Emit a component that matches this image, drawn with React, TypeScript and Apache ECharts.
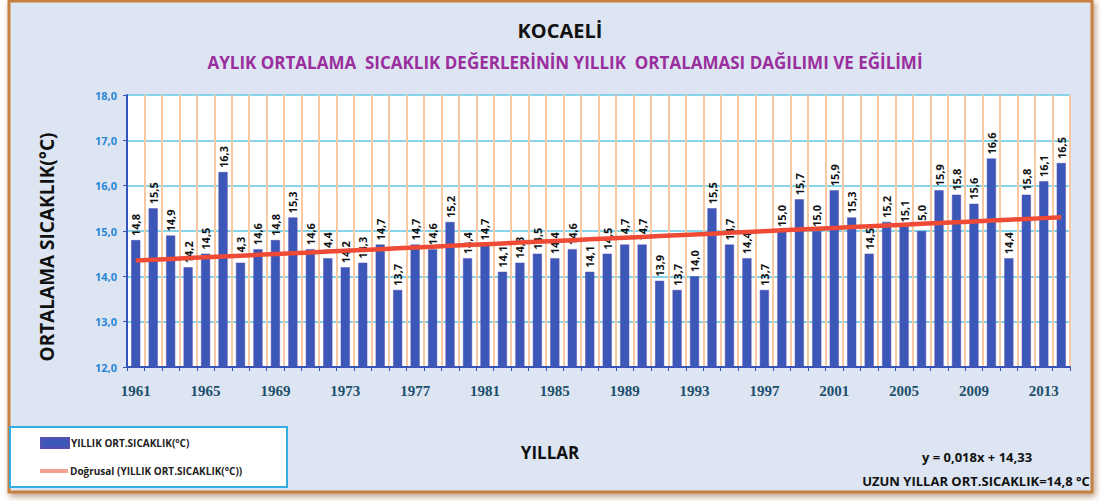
import React, { useEffect, useRef } from "react";
import * as echarts from "echarts";

const years: string[] = [];
for (let y = 1961; y <= 2014; y++) years.push(String(y));

const temps = [
  14.8, 15.5, 14.9, 14.2, 14.5, 16.3, 14.3, 14.6, 14.8, 15.3,
  14.6, 14.4, 14.2, 14.3, 14.7, 13.7, 14.7, 14.6, 15.2, 14.4,
  14.7, 14.1, 14.3, 14.5, 14.4, 14.6, 14.1, 14.5, 14.7, 14.7,
  13.9, 13.7, 14.0, 15.5, 14.7, 14.4, 13.7, 15.0, 15.7, 15.0,
  15.9, 15.3, 14.5, 15.2, 15.1, 15.0, 15.9, 15.8, 15.6, 16.6,
  14.4, 15.8, 16.1, 16.5,
];

// trend line from the equation printed on the chart: y = 0,018x + 14,33
const trendSlope = 0.018;
const trendIntercept = 14.33;
const trend = temps.map((_, i) => +(trendSlope * (i + 1) + trendIntercept).toFixed(3));

const yTicks = { min: 12, max: 18, interval: 1 };

const barName = "YILLIK ORT.SICAKLIK(°C)";
const lineName = "Doğrusal (YILLIK ORT.SICAKLIK(°C))";

const fmt = (v: number) => v.toFixed(1).replace(".", ",");

export default function App() {
  const ref = useRef<HTMLDivElement>(null);
  useEffect(() => {
    if (!ref.current) return;
    const chart = echarts.init(ref.current, undefined, { renderer: "svg" });
    const narrow = "'Liberation Sans Narrow', 'Open Sans', sans-serif";
    const legendText = { fontFamily: narrow, fontWeight: "bold", fontSize: 10, color: "#222" };
    chart.setOption({
      animation: false,
      backgroundColor: "#ffffff",
      graphic: [
        {
          type: "rect",
          z: -100,
          shape: { x: 9, y: 1, width: 1083, height: 491 },
          style: {
            fill: "#dce5f1",
            stroke: "#c8803f",
            lineWidth: 3,
            shadowBlur: 6,
            shadowColor: "rgba(120,60,10,0.5)",
            shadowOffsetX: 2,
            shadowOffsetY: 3,
          },
        },
        {
          type: "rect",
          z: -50,
          shape: { x: 10, y: 427, width: 277, height: 60 },
          style: { fill: "#ffffff", stroke: "#33aee0", lineWidth: 2 },
        },
        {
          type: "text",
          x: 560,
          y: 30,
          style: {
            text: "KOCAELİ",
            fill: "#111",
            font: `bold 20px ${narrow}`,
            align: "center",
            verticalAlign: "middle",
          },
        },
        {
          type: "text",
          x: 565,
          y: 62,
          style: {
            text: "AYLIK ORTALAMA  SICAKLIK DEĞERLERİNİN YILLIK  ORTALAMASI DAĞILIMI VE EĞİLİMİ",
            fill: "#9a2e9e",
            font: `bold 17px ${narrow}`,
            align: "center",
            verticalAlign: "middle",
          },
        },
        {
          type: "text",
          x: 47,
          y: 247,
          rotation: Math.PI / 2,
          style: {
            text: "ORTALAMA SICAKLIK(°C)",
            fill: "#111",
            font: `bold 19px ${narrow}`,
            align: "center",
            verticalAlign: "middle",
          },
        },
        {
          type: "text",
          x: 550,
          y: 452,
          style: {
            text: "YILLAR",
            fill: "#111",
            font: `bold 17px ${narrow}`,
            align: "center",
            verticalAlign: "middle",
          },
        },
        {
          type: "text",
          x: 977,
          y: 457,
          style: {
            text: "y = 0,018x + 14,33",
            fill: "#111",
            font: `bold 13px ${narrow}`,
            align: "center",
            verticalAlign: "middle",
          },
        },
        {
          type: "text",
          x: 976,
          y: 481,
          style: {
            text: "UZUN YILLAR ORT.SICAKLIK=14,8 °C",
            fill: "#111",
            font: `bold 13px ${narrow}`,
            align: "center",
            verticalAlign: "middle",
          },
        },
      ],
      legend: [
        {
          left: 40,
          top: 437,
          padding: 0,
          itemWidth: 28,
          itemHeight: 10,
          itemGap: 2,
          textStyle: { ...legendText, padding: [0, 0, 0, -3] },
          data: [{ name: barName, icon: "rect" }],
        },
        {
          left: 40,
          top: 466,
          padding: 0,
          itemWidth: 28,
          itemHeight: 4,
          textStyle: { ...legendText, padding: [0, 0, 0, -3] },
          data: [{ name: lineName, icon: "rect", itemStyle: { color: "#f5a294" } }],
        },
      ],
      grid: {
        left: 127,
        right: 31,
        top: 95,
        bottom: 134,
        show: true,
        backgroundColor: "#ffffff",
        borderColor: "#9d8fdc",
        borderWidth: 1,
      },
      xAxis: {
        type: "category",
        data: years,
        boundaryGap: true,
        axisLine: { show: true, lineStyle: { color: "#3355bb", width: 2 } },
        axisTick: { show: true, interval: 0, length: 4, lineStyle: { color: "#3355bb" } },
        axisLabel: {
          interval: 3,
          margin: 16,
          fontFamily: "'Liberation Serif', 'DejaVu Serif', serif",
          fontWeight: "bold",
          fontSize: 15,
          color: "#1d4f6c",
        },
        splitLine: { show: true, interval: 0, lineStyle: { color: "#f8c9a2", width: 2 } },
      },
      yAxis: {
        type: "value",
        min: yTicks.min,
        max: yTicks.max,
        interval: yTicks.interval,
        axisLine: { show: true, lineStyle: { color: "#3355bb", width: 2 } },
        axisTick: { show: true, length: 4, lineStyle: { color: "#3355bb" } },
        axisLabel: {
          formatter: (v: number) => fmt(v),
          fontFamily: narrow,
          fontWeight: "bold",
          fontSize: 11,
          color: "#2b86d6",
          margin: 10,
        },
        splitLine: { show: true, lineStyle: { color: "#86d3ea", width: 2 } },
      },
      series: [
        {
          name: barName,
          type: "bar",
          data: temps,
          barWidth: "52%",
          itemStyle: { color: "#3b57b8", borderColor: "#5a4fb0", borderWidth: 0.5 },
          label: {
            show: true,
            position: "top",
            rotate: 90,
            align: "left",
            verticalAlign: "middle",
            distance: 4,
            formatter: (p: any) => fmt(p.value),
            fontFamily: narrow,
            fontWeight: "bold",
            fontSize: 11,
            color: "#111",
          },
          z: 2,
        },
        {
          name: lineName,
          type: "line",
          data: trend,
          symbol: "none",
          lineStyle: { color: "#ef4a36", width: 4.5 },
          itemStyle: { color: "#f5a294" },
          z: 3,
        },
      ],
    });
    return () => chart.dispose();
  }, []);
  return (
    <div
      ref={ref}
      style={{ position: "absolute", left: 0, top: 0, width: 1101, height: 501 }}
    />
  );
}
